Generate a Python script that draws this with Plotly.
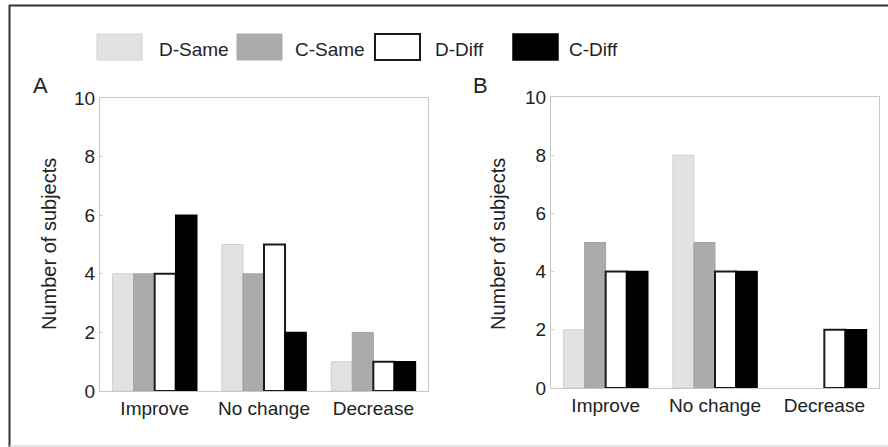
import plotly.graph_objects as go

W, H = 888, 447

categories = ["Improve", "No change", "Decrease"]
series_names = ["D-Same", "C-Same", "D-Diff", "C-Diff"]

# Panel A values
a_d_same = [4, 5, 1]
a_c_same = [4, 4, 2]
a_d_diff = [4, 5, 1]
a_c_diff = [6, 2, 1]

# Panel B values
b_d_same = [2, 8, 0]
b_c_same = [5, 5, 0]
b_d_diff = [4, 4, 2]
b_c_diff = [4, 4, 2]

y_ticks = [0, 2, 4, 6, 8, 10]

fills = ["#e2e2e2", "#ababab", "#ffffff", "#000000"]
outlines = ["#d0d0d0", "#a3a3a3", "#1a1a1a", "#000000"]
outline_w = [1, 1, 2, 1.5]

FONT = "Liberation Sans, Arial, sans-serif"

def px_x(v):
    return v / W

def px_y(v):
    return 1 - v / H

fig = go.Figure()

panels = [
    ("x", "y", [a_d_same, a_c_same, a_d_diff, a_c_diff]),
    ("x2", "y2", [b_d_same, b_c_same, b_d_diff, b_c_diff]),
]
for xa, ya, vals in panels:
    for i, name in enumerate(series_names):
        widths = [outline_w[i] if v > 0 else 0 for v in vals[i]]
        fig.add_trace(go.Bar(
            x=categories, y=vals[i], name=name,
            xaxis=xa, yaxis=ya,
            marker=dict(color=fills[i], line=dict(color=outlines[i], width=widths)),
            showlegend=False, hoverinfo="skip",
        ))

axis_common_x = dict(showline=True, mirror=True, linecolor="#c8c8c8", linewidth=1,
                     showgrid=False, zeroline=False, ticks="", automargin=False,
                     tickfont=dict(family=FONT, size=19, color="#222"))
axis_common_y = dict(showline=True, mirror=True, linecolor="#c8c8c8", linewidth=1,
                     showgrid=False, zeroline=False, range=[0, 10], automargin=False,
                     tickvals=y_ticks, ticks="inside", ticklen=3, tickcolor="#d0d0d0",
                     tickfont=dict(family=FONT, size=19, color="#222"))

fig.update_layout(
    width=W, height=H, autosize=False,
    margin=dict(l=0, r=0, t=0, b=0, pad=0, autoexpand=False),
    paper_bgcolor="white", plot_bgcolor="white",
    barmode="group", bargap=0.23, bargroupgap=0,
    xaxis=dict(domain=[px_x(100), px_x(428)], anchor="y", **axis_common_x),
    yaxis=dict(domain=[px_y(391), px_y(98)], anchor="x", **axis_common_y),
    xaxis2=dict(domain=[px_x(551), px_x(879)], anchor="y2", **axis_common_x),
    yaxis2=dict(domain=[px_y(388), px_y(97)], anchor="x2", **axis_common_y),
    font=dict(family=FONT, color="#222"),
)

shapes = []
annotations = []

# outer frame
shapes.append(dict(type="line", xref="paper", yref="paper",
                   x0=px_x(9.5), x1=px_x(9.5), y0=px_y(5), y1=0, line=dict(color="#333", width=2)))
shapes.append(dict(type="line", xref="paper", yref="paper",
                   x0=px_x(9), x1=1, y0=px_y(5.5), y1=px_y(5.5), line=dict(color="#333", width=2)))
shapes.append(dict(type="line", xref="paper", yref="paper",
                   x0=px_x(9), x1=1, y0=px_y(446), y1=px_y(446), line=dict(color="#cccccc", width=1)))

# custom legend
sw_x = [97, 237, 375, 513]
txt_x = [157, 293, 433, 567]
for i, name in enumerate(series_names):
    shapes.append(dict(type="rect", xref="paper", yref="paper",
                       x0=px_x(sw_x[i]), x1=px_x(sw_x[i] + 45),
                       y0=px_y(60), y1=px_y(34),
                       fillcolor=fills[i],
                       line=dict(color=outlines[i] if i != 1 else fills[i], width=outline_w[i])))
    annotations.append(dict(xref="paper", yref="paper", x=px_x(txt_x[i]), y=px_y(62),
                            xanchor="left", yanchor="bottom", showarrow=False, text=name,
                            font=dict(family=FONT, size=19, color="#222")))

# panel labels
for lbl, x in [("A", 31), ("B", 471)]:
    annotations.append(dict(xref="paper", yref="paper", x=px_x(x), y=px_y(85),
                            xanchor="left", yanchor="middle", showarrow=False, text=lbl,
                            font=dict(family=FONT, size=22, color="#222")))

# y titles
for x in [49, 498]:
    annotations.append(dict(xref="paper", yref="paper", x=px_x(x), y=px_y(244),
                            xanchor="center", yanchor="middle", showarrow=False,
                            text="Number of subjects", textangle=-90,
                            font=dict(family=FONT, size=20, color="#222")))

fig.update_layout(shapes=shapes, annotations=annotations)

post = ("document.body.style.margin='0';document.body.style.padding='0';"
        "var d=document.getElementById('{plot_id}');"
        "d.style.position='absolute';d.style.top='0px';d.style.left='0px';")
fig.write_html("out.html", post_script=post, config={"displayModeBar": False})
